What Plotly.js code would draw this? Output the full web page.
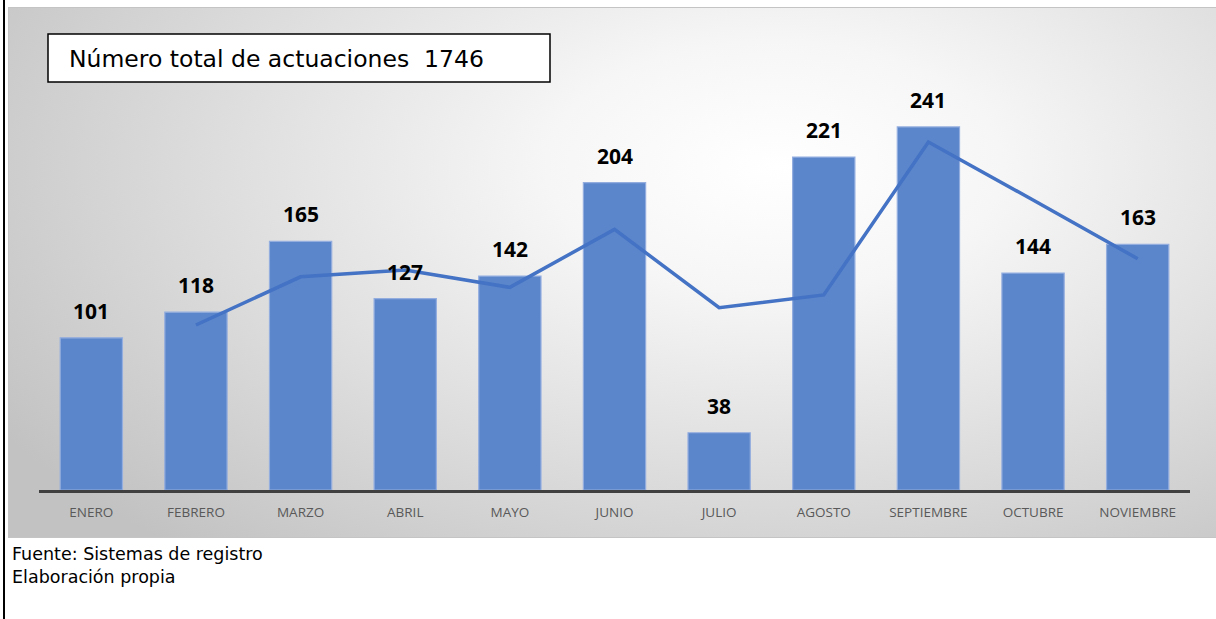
<!DOCTYPE html>
<html>
<head>
<meta charset="utf-8">
<script src="https://cdn.plot.ly/plotly-3.0.1.min.js"></script>
<style>
  html, body { margin: 0; padding: 0; width: 1216px; height: 619px; overflow: hidden; background: #ffffff; }
  #leftline { position: absolute; left: 3px; top: 0; width: 2px; height: 619px; background: #000; }
  #bg { position: absolute; left: 8px; top: 7px; width: 1215px; height: 529px;
        border: 1px solid #c4c4c4;
        background: radial-gradient(ellipse 75% 95% at 63% 30%, #ffffff 0%, #f6f6f6 25%, #dedede 60%, #c2c2c2 100%); }
  #chart { position: absolute; left: 0; top: 0; width: 1216px; height: 619px; }
  .foot { position: absolute; left: 12px; font-family: "DejaVu Sans", sans-serif; font-size: 17.5px; color: #000; }
</style>
</head>
<body>
<div id="leftline"></div>
<div id="bg"></div>
<div id="chart"></div>
<div class="foot" style="top:544px;">Fuente: Sistemas de registro</div>
<div class="foot" style="top:567px;">Elaboración propia</div>
<script>
const months = ["ENERO","FEBRERO","MARZO","ABRIL","MAYO","JUNIO","JULIO","AGOSTO","SEPTIEMBRE","OCTUBRE","NOVIEMBRE"];
const actuaciones = [101,118,165,127,142,204,38,221,241,144,163];
const trendMonths = ["FEBRERO","MARZO","ABRIL","MAYO","JUNIO","JULIO","AGOSTO","SEPTIEMBRE","OCTUBRE","NOVIEMBRE"];
const trendValues = [109.5,141.5,146,134.5,173,121,129.5,231,192.5,153.5];
const titleText = "Número total de actuaciones  1746";

const bars = {
  type: 'bar', x: months, y: actuaciones,
  marker: { color: '#5b86cb', line: { color: '#93addf', width: 1.2 } },
  hoverinfo: 'x+y', showlegend: false
};
const line = {
  type: 'scatter', mode: 'lines', x: trendMonths, y: trendValues,
  line: { color: '#4472c4', width: 3.5 }, showlegend: false, hoverinfo: 'skip'
};

const labelAnns = months.map((m, i) => ({
  x: m, y: actuaciones[i], xref: 'x', yref: 'y',
  text: '<b>' + actuaciones[i] + '</b>', showarrow: false,
  yanchor: 'middle', yshift: 27,
  font: { family: 'Open Sans, sans-serif', size: 21, color: '#000' }
}));

// pixel helpers for the title box (plot area: x 39..1190, y 38..490)
const px = v => (v - 39) / 1151;
const py = v => (490 - v) / 452;

const layout = {
  width: 1216, height: 619,
  margin: { l: 39, r: 26, t: 38, b: 129, pad: 0 },
  paper_bgcolor: 'rgba(0,0,0,0)', plot_bgcolor: 'rgba(0,0,0,0)',
  bargap: 0.405,
  xaxis: {
    type: 'category', showline: true, linecolor: '#404040', linewidth: 3,
    ticks: '', showgrid: false, zeroline: false, fixedrange: true,
    tickfont: { family: 'Open Sans, sans-serif', size: 13.5, color: '#595959' },
    ticklabelstandoff: 8
  },
  yaxis: {
    range: [0, 300], visible: false, showgrid: false, zeroline: false, fixedrange: true
  },
  shapes: [{
    type: 'rect', xref: 'paper', yref: 'paper',
    x0: px(48), x1: px(550), y0: py(82), y1: py(34),
    fillcolor: '#ffffff', line: { color: '#000', width: 1.5 }, layer: 'above'
  }],
  annotations: labelAnns.concat([{
    xref: 'paper', yref: 'paper', x: px(67), y: py(59),
    xanchor: 'left', yanchor: 'middle', showarrow: false,
    text: titleText,
    font: { family: 'DejaVu Sans, sans-serif', size: 23.5, color: '#000' }
  }])
};

Plotly.newPlot('chart', [bars, line], layout, { displayModeBar: false, staticPlot: true });
</script>
</body>
</html>
